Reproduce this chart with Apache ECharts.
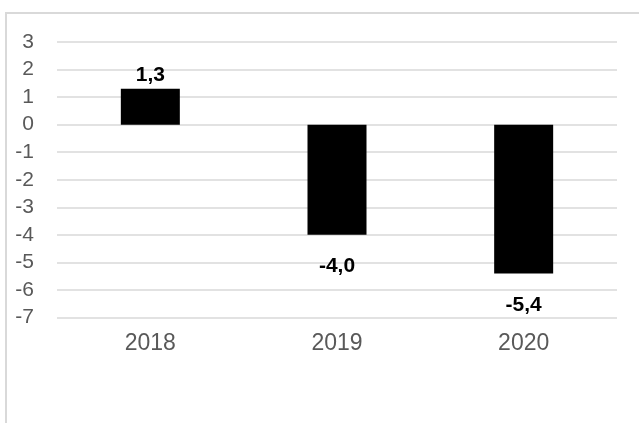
<!DOCTYPE html>
<html>
  <head>
    <meta charset="utf-8" />
    <title>index.html</title>
    <style type="text/css">
      html,body{margin:0;padding:0;background:#fff;}
      #chart1{width:639px;height:423px;}
      .frame{position:absolute;left:5px;top:12px;width:700px;height:500px;border-left:2px solid #d9d9d9;border-top:2px solid #d9d9d9;pointer-events:none;}
    </style>
    <script type="text/javascript" src="https://cdn.jsdelivr.net/npm/echarts@6/dist/echarts.min.js"></script>
  </head>
  <body>
    <div id="chart1"></div>
    <div class="frame"></div>
  </body>
  <script type="text/javascript">
    // categories and values
    var years = ['2018', '2019', '2020'];
    var values = [1.3, -4.0, -5.4];
    var yTicks = [-7, -6, -5, -4, -3, -2, -1, 0, 1, 2, 3];

    var myChart = echarts.init(document.getElementById('chart1'));

    // positive bars get the label on top, negative ones below
    var barData = values.map(function (v) {
      return {
        value: v,
        label: {
          position: v >= 0 ? 'top' : 'bottom',
          distance: v >= 0 ? 3 : 21
        }
      };
    });

    myChart.setOption({
      animation: false,
      grid: { left: 57, right: 22, top: 42, bottom: 105.5 },
      xAxis: {
        type: 'category',
        data: years,
        position: 'bottom',
        axisLine: { show: false },
        axisTick: { show: false },
        axisLabel: {
          margin: 15,
          color: '#595959',
          fontSize: 23,
          fontFamily: 'Liberation Sans, Arial, sans-serif'
        }
      },
      yAxis: {
        type: 'value',
        min: yTicks[0],
        max: yTicks[yTicks.length - 1],
        interval: 1,
        axisLine: { show: false },
        axisTick: { show: false },
        splitLine: { lineStyle: { color: '#d9d9d9', width: 1.5 } },
        axisLabel: {
          margin: 23,
          color: '#595959',
          fontSize: 21,
          fontFamily: 'Liberation Sans, Arial, sans-serif'
        }
      },
      series: [{
        type: 'bar',
        data: barData,
        barWidth: 59,
        itemStyle: { color: '#000' },
        label: {
          show: true,
          color: '#000',
          fontSize: 21,
          fontWeight: 'bold',
          fontFamily: 'Liberation Sans, Arial, sans-serif',
          formatter: function (p) {
            return p.value.toFixed(1).replace('.', ',');
          }
        }
      }]
    });
  </script>
</html>
